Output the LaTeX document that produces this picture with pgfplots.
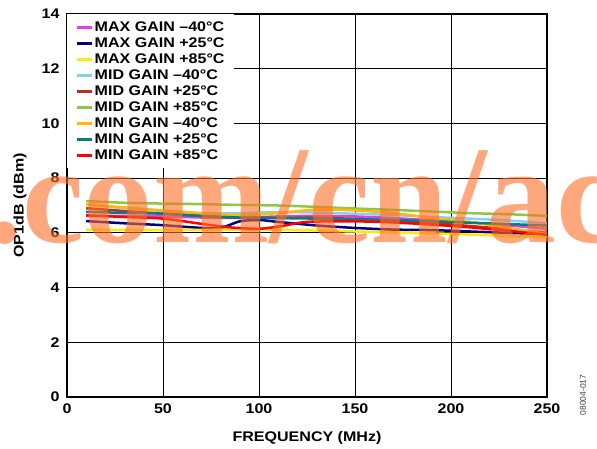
\documentclass[border=0pt]{standalone}
\usepackage{pgfplots}
\pgfplotsset{compat=1.18}
\usepackage{fontspec}
\setmainfont{Liberation Sans}[FakeStretch=1.15]
\newfontfamily\plainfont{Liberation Sans}
\newfontfamily\wmfont{Liberation Serif}
\definecolor{cmag}{RGB}{230,60,240}
\definecolor{cnavy}{RGB}{0,0,128}
\definecolor{cyel}{RGB}{255,235,0}
\definecolor{clblue}{RGB}{135,206,250}
\definecolor{cbrown}{RGB}{190,50,20}
\definecolor{cgreen}{RGB}{140,200,70}
\definecolor{corange}{RGB}{255,185,0}
\definecolor{cteal}{RGB}{0,128,128}
\definecolor{cred}{RGB}{255,0,0}
\definecolor{wm}{RGB}{255,110,40}
\begin{document}
\begin{tikzpicture}
\useasboundingbox (-67bp,-52bp) rectangle (530bp,397bp);
\begin{axis}[
  name=ax,
  at={(0,0)}, anchor=south west,
  scale only axis,
  width=480bp, height=383bp,
  xmin=0, xmax=250, ymin=0, ymax=14,
  xtick={0,50,...,250}, ytick={0,2,...,14},
  grid=major,
  major grid style={black, line width=0.8bp},
  axis line style={black, line width=1.2bp},
  tick style={black, line width=0.8bp},
  tick align=inside,
  ticklabel style={font=\fontsize{14}{16}\selectfont\bfseries},
  /pgf/number format/assume math mode=true,
  xticklabel style={yshift=-3bp},
  yticklabel style={xshift=-4bp},
  xlabel={FREQUENCY (MHz)},
  ylabel={OP1dB (dBm)},
  xlabel style={font=\fontsize{14}{16}\selectfont\bfseries, at={(axis description cs:0.5,0)}, anchor=center, yshift=-41bp},
  ylabel style={font=\fontsize{14}{16}\selectfont\bfseries, at={(axis description cs:-0.098,0.5)}, anchor=center},
  legend cell align=left,
  legend image code/.code={\draw[#1, line width=3bp] (0bp,0bp) -- (15bp,0bp);},
  legend style={draw=none, fill=white, at={(0,1)}, anchor=north west,
    font=\fontsize{14}{16}\selectfont\bfseries,
    row sep=0pt, inner xsep=8bp, inner ysep=5bp,
    nodes={text height=10.5bp, text depth=2.5bp, inner sep=1.5bp}},
  every axis plot/.append style={line width=2.5bp, smooth, tension=0.5},
]
\addplot[cmag] coordinates {(10,6.62)(30,6.62)(50,6.60)(70,6.56)(90,6.55)(110,6.60)(130,6.62)(150,6.60)(170,6.54)(190,6.46)(210,6.38)(230,6.27)(250,6.15)};
\addlegendentry{MAX GAIN –40°C}
\addplot[cnavy] coordinates {(10,6.43)(30,6.35)(50,6.28)(70,6.18)(80,6.18)(90,6.42)(100,6.47)(110,6.40)(130,6.27)(150,6.18)(170,6.12)(190,6.10)(210,6.05)(230,6.00)(250,5.95)};
\addlegendentry{MAX GAIN +25°C}
\addplot[cyel] coordinates {(10,6.12)(50,6.10)(100,6.12)(150,6.05)(200,5.96)(250,5.84)};
\addlegendentry{MAX GAIN +85°C}
\addplot[clblue] coordinates {(10,7.05)(30,6.90)(50,6.80)(70,6.72)(90,6.72)(110,6.76)(130,6.74)(150,6.70)(170,6.65)(190,6.58)(210,6.52)(230,6.45)(250,6.35)};
\addlegendentry{MID GAIN –40°C}
\addplot[cbrown] coordinates {(10,6.90)(50,6.70)(90,6.55)(130,6.55)(170,6.45)(210,6.25)(250,6.00)};
\addlegendentry{MID GAIN +25°C}
\addplot[cgreen] coordinates {(10,7.16)(30,7.10)(50,7.07)(70,7.05)(90,7.02)(110,7.00)(130,6.95)(150,6.89)(170,6.84)(190,6.78)(210,6.72)(230,6.68)(250,6.62)};
\addlegendentry{MID GAIN +85°C}
\addplot[corange] coordinates {(10,7.04)(30,6.93)(50,6.82)(70,6.72)(90,6.65)(110,6.72)(130,6.85)(150,6.82)(170,6.72)(190,6.55)(210,6.40)(230,6.18)(250,5.95)};
\addlegendentry{MIN GAIN –40°C}
\addplot[cteal] coordinates {(10,6.77)(30,6.73)(50,6.70)(70,6.62)(90,6.56)(110,6.54)(130,6.52)(150,6.50)(170,6.47)(190,6.42)(210,6.37)(230,6.32)(250,6.27)};
\addlegendentry{MIN GAIN +25°C}
\addplot[cred] coordinates {(10,6.64)(30,6.58)(50,6.52)(70,6.33)(85,6.20)(100,6.15)(112,6.25)(125,6.40)(150,6.42)(170,6.38)(190,6.30)(210,6.20)(230,6.07)(250,5.93)};
\addlegendentry{MIN GAIN +85°C}
\end{axis}
\node[rotate=90, font=\fontsize{8.5}{10}\plainfont, text=black!75, anchor=center] at (516bp,2bp) {08004-017};
\node[anchor=base west, inner sep=0pt, text=wm, opacity=0.6, font=\fontsize{140}{140}\wmfont\bfseries] at (-80bp,154bp) {.com/cn/ac};
\end{tikzpicture}
\end{document}
